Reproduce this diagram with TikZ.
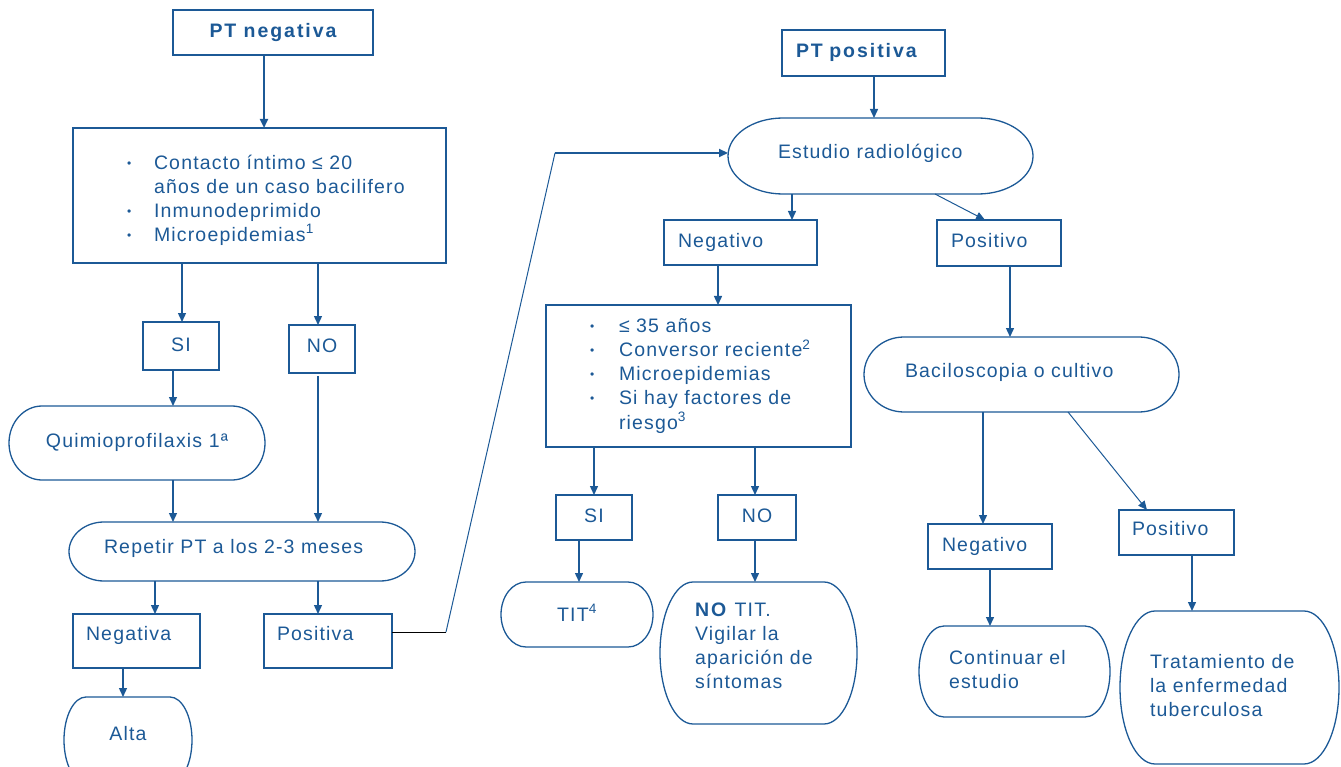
\documentclass[tikz,border=0pt]{standalone}
\usepackage{fontspec}
\setmainfont{Liberation Sans}[LetterSpace=6,BoldFeatures={LetterSpace=10}]
\usetikzlibrary{arrows.meta}
\definecolor{bl}{RGB}{28,89,150}
\newcommand\bul{\raisebox{2pt}{\fontsize{12}{12}\selectfont •}}
\newcommand\tb[1]{\begin{tabular}{@{}l@{}}#1\end{tabular}}
\newcommand\Stad[3]{\draw[ln] ([xshift=#2pt]#1.north west) -- ([xshift=-#2pt]#1.north east)
  arc[start angle=90,end angle=-90,x radius=#2pt,y radius=#3pt]
  -- ([xshift=#2pt]#1.south west)
  arc[start angle=270,end angle=90,x radius=#2pt,y radius=#3pt] -- cycle;}
\begin{document}
\begin{tikzpicture}[x=1pt,y=-1pt,
  every node/.style={text=bl,font=\fontsize{19.5}{24}\selectfont,inner sep=0pt,outer sep=0pt},
  bf/.style={font=\fontsize{19.5}{24}\selectfont\bfseries},
  bx/.style={draw=bl,line width=1.3pt},
  ln/.style={draw=bl,line width=1.3pt},
  ar/.style={draw=bl,line width=1.4pt,-{Triangle[length=9pt,width=8pt]}},
  ar2/.style={ar,line width=2.2pt},
  ard/.style={ar,line width=1pt},
  sz/.style 2 args={minimum width=#1pt,minimum height=#2pt},
  lw/.style={text width=#1pt,align=left},
  ty/.style={text height=#1pt,text depth=5pt}]
\useasboundingbox (0,0) rectangle (1341,767);
% ---------- left ----------
\node[bx,bf,sz={200}{45},ty=16] (ptneg) at (273,32.5) {PT negativa};
\node[bx,sz={373}{135},lw=373,text height=63pt] (crit) at (259.5,195.5)
  {\noindent\hspace*{54pt}\begin{tabular}{@{}p{27pt}@{}l@{}}
   \bul&Contacto íntimo ≤ 20\\
   &años de un caso bacilifero\\
   \bul&Inmunodeprimido\\
   \bul&Microepidemias\textsuperscript{1}\end{tabular}};
\node[bx,sz={76}{48},ty=15] (si1) at (181,346) {SI};
\node[bx,sz={66}{48},ty=11] (no1) at (322,349) {NO};
\node[sz={256}{74},ty=13] (quim) at (137,443) {Quimioprofilaxis 1ª};
\node[sz={346}{59},ty=10,lw=346] (rep) at (242,551.5) {\noindent\hspace*{35pt}\tb{Repetir PT a los 2-3 meses}};
\node[bx,sz={127}{54},ty=5,lw=127] (neg1) at (136.5,641) {\noindent\hspace*{13pt}\tb{Negativa}};
\node[bx,sz={128}{54},ty=5,lw=128] (pos1) at (328,641) {\noindent\hspace*{13pt}\tb{Positiva}};
\node[sz={128}{86},ty=5] (alta) at (128,740) {Alta};
% ---------- right ----------
\node[bx,bf,sz={163}{46},ty=15,lw=163] (ptpos) at (863.5,53) {\noindent\hspace*{14pt}\tb{PT positiva}};
\node[sz={305}{76},ty=11,lw=305] (est) at (880.5,156) {\noindent\hspace*{50pt}\tb{Estudio radiológico}};
\node[bx,sz={153}{45},ty=16,lw=153] (negA) at (740.5,242.5) {\noindent\hspace*{14pt}\tb{Negativo}};
\node[bx,sz={124}{46},ty=15,lw=124] (posA) at (999,243) {\noindent\hspace*{14pt}\tb{Positivo}};
\node[bx,sz={305}{142},lw=305] (crit2) at (698.5,376)
  {\noindent\hspace*{44pt}\begin{tabular}{@{}p{29pt}@{}l@{}}
   \bul&≤ 35 años\\
   \bul&Conversor reciente\textsuperscript{2}\\
   \bul&Microepidemias\\
   \bul&Si hay factores de\\
   &riesgo\textsuperscript{3}\end{tabular}};
\node[sz={315}{75},ty=12,lw=315] (bac) at (1021.5,374.5) {\noindent\hspace*{41pt}\tb{Baciloscopia o cultivo}};
\node[bx,sz={124}{45},ty=16,lw=124] (negB) at (990,546.5) {\noindent\hspace*{14pt}\tb{Negativo}};
\node[bx,sz={115}{45},ty=12,lw=115] (posB) at (1176.5,532.5) {\noindent\hspace*{13pt}\tb{Positivo}};
\node[sz={191}{91},lw=191] (cont) at (1014.5,671.5) {\noindent\hspace*{30pt}\tb{Continuar el\\estudio}};
\node[sz={219}{153},lw=219] (trat) at (1229.5,687.5) {\noindent\hspace*{30pt}\tb{Tratamiento de\\la enfermedad\\tuberculosa}};
\node[bx,sz={76}{45},ty=14] (siB) at (594,517.5) {SI};
\node[bx,sz={78}{45},ty=14] (noB) at (757,517.5) {NO};
\node[sz={152}{65},ty=19] (tit) at (577,614.5) {TIT\textsuperscript{4}};
\node[sz={197}{142},lw=197,text depth=53pt] (notit) at (758.5,653)
  {\noindent\hspace*{35pt}\tb{\textbf{NO} TIT.\\Vigilar la\\aparición de\\síntomas}};
% ---------- rounded outlines ----------
\Stad{quim}{33}{37}
\Stad{rep}{35}{29.5}
\Stad{alta}{22}{43}
\Stad{est}{55}{38}
\Stad{bac}{40}{37.5}
\Stad{cont}{25}{45.5}
\Stad{trat}{35}{76.5}
\Stad{tit}{25}{32.5}
\Stad{notit}{33}{71}
% ---------- connectors ----------
\draw[ar2] ([xshift=-9pt]ptneg.south) -- ([xshift=4.5pt]crit.north);
\draw[ar] ([xshift=-77.5pt]crit.south) -- ([xshift=1pt]si1.north);
\draw[ar] ([xshift=58.5pt]crit.south) -- ([xshift=-4pt]no1.north);
\draw[ar] ([xshift=-8pt]si1.south) -- ([xshift=36pt]quim.north);
\draw[ar] ([xshift=36pt]quim.south) -- ([xshift=-69pt]rep.north);
\draw[ar] ([xshift=-4pt,yshift=-3pt]no1.south) -- ([xshift=76pt]rep.north);
\draw[ar] ([xshift=-87pt]rep.south) -- ([xshift=18.5pt]neg1.north);
\draw[ar] ([xshift=76pt]rep.south) -- ([xshift=-10pt]pos1.north);
\draw[ar] ([xshift=-13.5pt]neg1.south) -- ([xshift=-5pt]alta.north);
\coordinate (k1) at (446,632);
\coordinate (k2) at (555,153);
\draw[black,line width=0.9pt] ([yshift=9pt]pos1.east) -- (k1);
\draw[bl,line width=1pt] (k1) -- (k2);
\draw[ar2] (k2) -- ([yshift=3pt]est.west);
\draw[ar] ([xshift=10.5pt]ptpos.south) -- ([xshift=-6.5pt]est.north);
\draw[ar] ([xshift=-88.5pt]est.south) -- ([xshift=51.5pt]negA.north);
\draw[ard] ([xshift=54.5pt]est.south) -- ([xshift=-14pt]posA.north);
\draw[ar] ([xshift=-22.5pt]negA.south) -- ([xshift=19.5pt]crit2.north);
\draw[ar] ([xshift=11pt]posA.south) -- ([xshift=-11.5pt]bac.north);
\draw[ar] ([xshift=-38.5pt]bac.south) -- ([xshift=-7pt]negB.north);
\draw[ard] ([xshift=46.5pt]bac.south) -- ([xshift=-29.5pt]posB.north);
\draw[ar] (negB.south) -- ([xshift=-24.5pt]cont.north);
\draw[ar] ([xshift=15.5pt]posB.south) -- ([xshift=-37.5pt]trat.north);
\draw[ar] ([xshift=-104.5pt]crit2.south) -- (siB.north);
\draw[ar] ([xshift=56.5pt]crit2.south) -- ([xshift=-2pt]noB.north);
\draw[ar] ([xshift=-15pt]siB.south) -- ([xshift=2pt]tit.north);
\draw[ar] ([xshift=-2pt]noB.south) -- ([xshift=-3.5pt]notit.north);
\end{tikzpicture}
\end{document}
